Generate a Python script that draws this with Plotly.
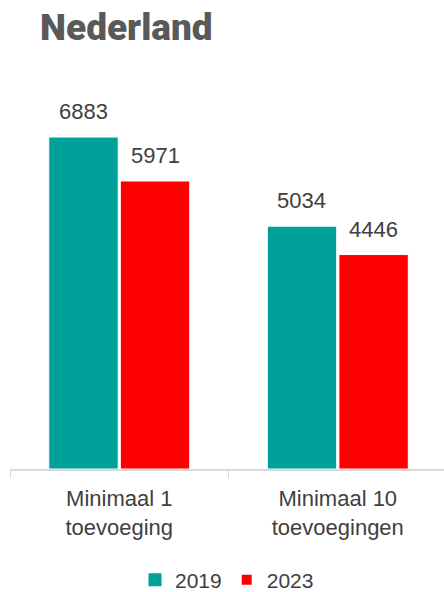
import plotly.graph_objects as go

categories = ["Minimaal 1<br>toevoeging", "Minimaal 10<br>toevoegingen"]
series_names = ["2019", "2023"]
values_2019 = [6883, 5034]
values_2023 = [5971, 4446]
colors = ["#00A19A", "#FF0000"]

fig = go.Figure()
for name, vals, col in zip(series_names, [values_2019, values_2023], colors):
    fig.add_trace(go.Bar(
        x=categories, y=vals, name=name, marker=dict(color=col, line=dict(color="white", width=1)),
        showlegend=False, hoverinfo="skip"))

# legend dummies
legend_sizes = [13, 10]
for name, col, sz in zip(series_names, colors, legend_sizes):
    fig.add_trace(go.Scatter(
        x=[None], y=[None], mode="markers", name=name,
        marker=dict(symbol="square", color=col, size=sz)))

# value labels
for vals, shift in [(values_2019, -36), (values_2023, 36)]:
    for cat, v in zip(categories, vals):
        fig.add_annotation(x=cat, y=v, text=str(v), showarrow=False,
                           xshift=shift, yshift=11, yanchor="bottom",
                           font=dict(size=22, color="#404040", family="Liberation Sans"))

fig.add_annotation(text="Nederland", xref="paper", yref="paper",
                   x=(38 - 10) / 434, y=1, xanchor="left", yanchor="middle",
                   yshift=32, showarrow=False,
                   font=dict(size=37, color="#595959", family="Roboto", weight=900))

fig.update_layout(
    width=444, height=592,
    margin=dict(l=10, r=0, t=59, b=123, autoexpand=False),
    plot_bgcolor="white", paper_bgcolor="white",
    barmode="group", bargap=0.345, bargroupgap=0.03,
    font=dict(family="Liberation Sans", size=22, color="#404040"),
    xaxis=dict(type="category", range=[-0.5, 1.486], showline=True, linecolor="#D9D9D9", linewidth=1.5,
               ticks="outside", tickson="boundaries", ticklen=7, tickcolor="#D9D9D9",
               ticklabelstandoff=9, automargin=False,
               tickfont=dict(size=22, color="#404040"), showgrid=False),
    yaxis=dict(range=[0, 8500], visible=False, showgrid=False),
    legend=dict(orientation="h", x=0.5, xanchor="center", y=-0.271, yanchor="middle",
                font=dict(size=21, color="#404040"), itemsizing="trace"),
)

fig.write_html("out.html", config={"displayModeBar": False},
               post_script="document.body.style.margin='0';document.body.style.overflow='hidden';")
